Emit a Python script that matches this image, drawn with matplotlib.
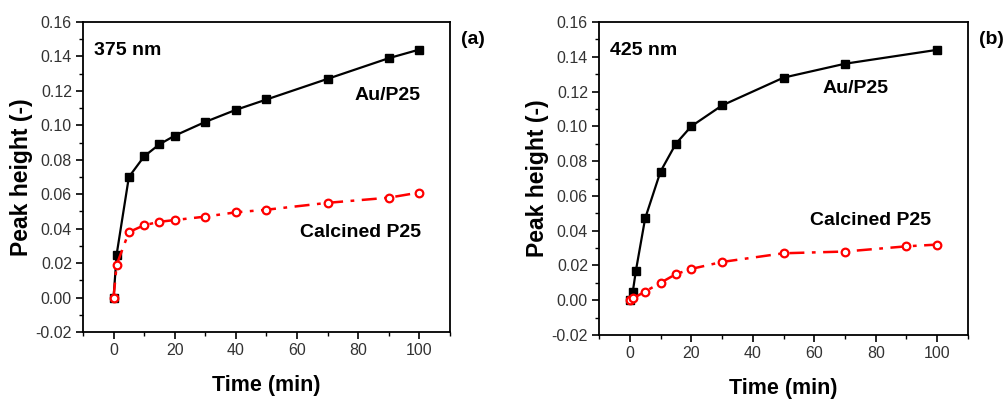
import matplotlib
matplotlib.use("Agg")
import matplotlib.pyplot as plt
from matplotlib.ticker import MultipleLocator

plt.rcParams['font.family'] = ['Liberation Sans', 'DejaVu Sans']

# Panel (a) 375 nm
time_a_au = [0, 1, 5, 10, 15, 20, 30, 40, 50, 70, 90, 100]
au_a = [0.0, 0.025, 0.070, 0.082, 0.089, 0.094, 0.102, 0.109, 0.115, 0.127, 0.139, 0.144]
time_a_cal = [0, 1, 5, 10, 15, 20, 30, 40, 50, 70, 90, 100]
cal_a = [0.0, 0.019, 0.038, 0.042, 0.044, 0.045, 0.047, 0.0495, 0.051, 0.055, 0.058, 0.061]

# Panel (b) 425 nm
time_b_au = [0, 1, 2, 5, 10, 15, 20, 30, 50, 70, 100]
au_b = [0.0, 0.005, 0.017, 0.047, 0.074, 0.090, 0.100, 0.112, 0.128, 0.136, 0.144]
time_b_cal = [0, 1, 5, 10, 15, 20, 30, 50, 70, 90, 100]
cal_b = [0.0, 0.001, 0.005, 0.010, 0.015, 0.018, 0.022, 0.027, 0.028, 0.031, 0.032]

wavelengths = ["375 nm", "425 nm"]
panel_tags = ["(a)", "(b)"]
series_names = ["Au/P25", "Calcined P25"]

fig = plt.figure(figsize=(10.04, 4.0), dpi=100)
ax_a = fig.add_axes([83/1004, 1-332/400, (450-83)/1004, (332-22)/400])
ax_b = fig.add_axes([599/1004, 1-335/400, (968-599)/1004, (335-22)/400])

panels = [
    (ax_a, time_a_au, au_a, time_a_cal, cal_a),
    (ax_b, time_b_au, au_b, time_b_cal, cal_b),
]

for i, (ax, ta, ya, tc, yc) in enumerate(panels):
    ax.plot(ta, ya, color='black', lw=1.6, marker='s', ms=6, mfc='black', mec='black', zorder=3)
    ax.plot(tc, yc, color='red', lw=1.8, ls=(0, (6, 3, 1.5, 3)), marker='o', ms=5.5, mfc='white',
            mec='red', mew=1.6, zorder=4)
    ax.set_xlim(-10, 110)
    ax.set_ylim(-0.02, 0.16)
    ax.xaxis.set_major_locator(MultipleLocator(20))
    ax.xaxis.set_minor_locator(MultipleLocator(10))
    ax.yaxis.set_major_locator(MultipleLocator(0.02))
    ax.yaxis.set_minor_locator(MultipleLocator(0.01))
    ax.yaxis.set_major_formatter(matplotlib.ticker.FuncFormatter(lambda v, p: f"{v:.2f}"))
    ax.tick_params(which='major', direction='out', length=5, width=1.2, labelsize=11.5,
                   labelcolor='#333333', pad=3)
    ax.tick_params(which='minor', direction='out', length=3, width=1.0)
    for s in ax.spines.values():
        s.set_linewidth(1.3)
    ax.set_xlabel("Time (min)", fontsize=15.5, fontweight='bold', labelpad=12)
    ax.set_ylabel("Peak height (-)", fontsize=16.5, fontweight='bold', labelpad=2)
    ax.text(0.03, 0.935, wavelengths[i], transform=ax.transAxes, fontsize=14,
            fontweight='bold', va='top', ha='left')
    ax.text(1.03, 0.97, panel_tags[i], transform=ax.transAxes, fontsize=14,
            fontweight='bold', va='top', ha='left')

ax_a.text(100.5, 0.1176, series_names[0], fontsize=14, fontweight='bold', ha='right', va='center')
ax_a.text(100.5, 0.0375, series_names[1], fontsize=14, fontweight='bold', ha='right', va='center')
ax_b.text(84, 0.1215, series_names[0], fontsize=14, fontweight='bold', ha='right', va='center')
ax_b.text(98, 0.046, series_names[1], fontsize=14, fontweight='bold', ha='right', va='center')

fig.savefig("out.png", dpi=100)
